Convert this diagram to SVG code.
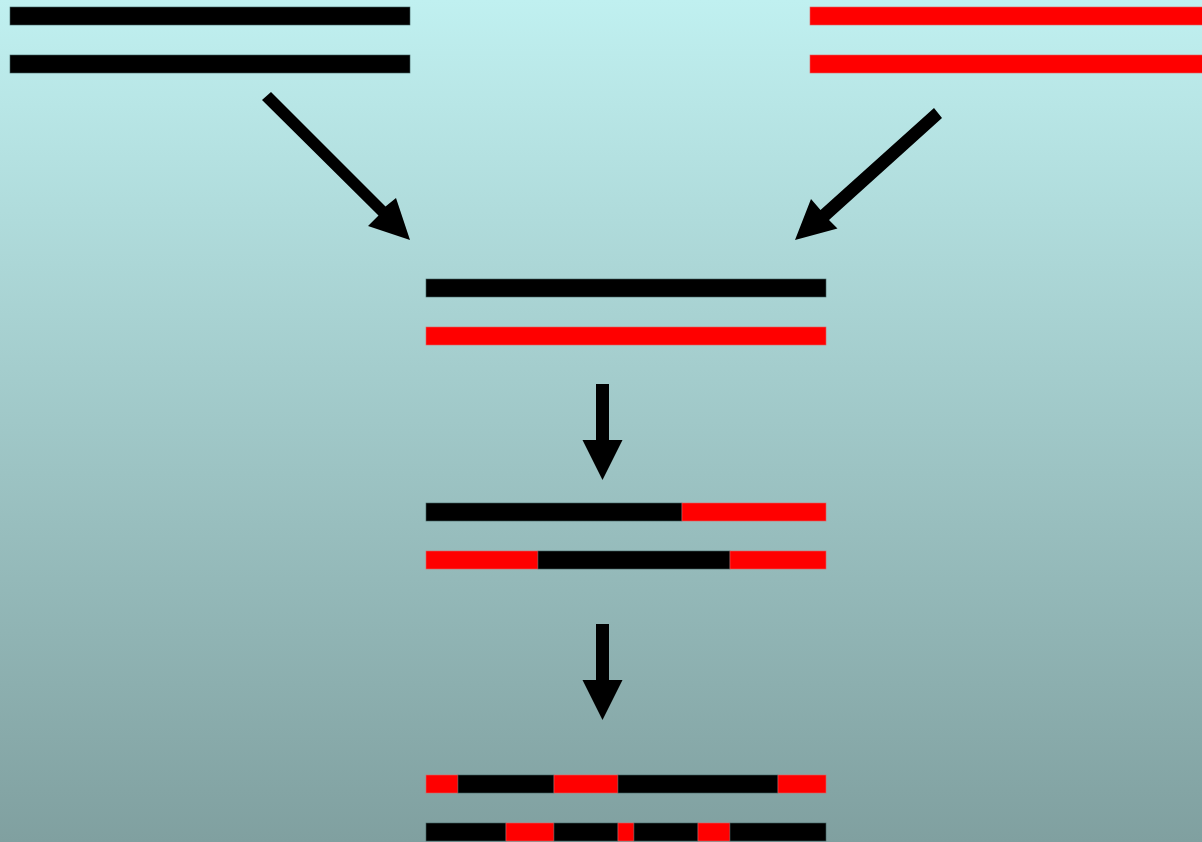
<svg xmlns="http://www.w3.org/2000/svg" width="1202" height="842" viewBox="0 0 1202 842">
  <defs>
    <linearGradient id="bg" x1="0" y1="0" x2="0" y2="1">
      <stop offset="0" stop-color="#c0f0f0"/>
      <stop offset="1" stop-color="#80a0a0"/>
    </linearGradient>
    <style>
      .k { fill: #000000; stroke: #406060; stroke-width: 0.6; }
      .r { fill: #ff0000; stroke: #e06060; stroke-width: 0.6; }
      .arrow { fill: #000000; }
    </style>
  </defs>
  <rect width="1202" height="842" fill="url(#bg)"/>

  <!-- parental chromosomes -->
  <g id="parent-black">
    <rect class="k" x="10" y="7" width="400" height="18"/>
    <rect class="k" x="10" y="55" width="400" height="18"/>
  </g>
  <g id="parent-red">
    <rect class="r" x="810" y="7" width="400" height="18"/>
    <rect class="r" x="810" y="55" width="400" height="18"/>
  </g>

  <!-- paired -->
  <g id="pair">
    <rect class="k" x="426" y="279" width="400" height="18"/>
    <rect class="r" x="426" y="327" width="400" height="18"/>
  </g>

  <!-- first crossover -->
  <g id="crossover-1">
    <rect class="k" x="426" y="503" width="256" height="18"/>
    <rect class="r" x="682" y="503" width="144" height="18"/>
    <rect class="r" x="426" y="551" width="112" height="18"/>
    <rect class="k" x="538" y="551" width="192" height="18"/>
    <rect class="r" x="730" y="551" width="96" height="18"/>
  </g>

  <!-- multiple crossovers -->
  <g id="crossover-2">
    <rect class="r" x="426" y="775" width="32" height="18"/>
    <rect class="k" x="458" y="775" width="96" height="18"/>
    <rect class="r" x="554" y="775" width="64" height="18"/>
    <rect class="k" x="618" y="775" width="160" height="18"/>
    <rect class="r" x="778" y="775" width="48" height="18"/>
    <rect class="k" x="426" y="823" width="80" height="18"/>
    <rect class="r" x="506" y="823" width="48" height="18"/>
    <rect class="k" x="554" y="823" width="64" height="18"/>
    <rect class="r" x="618" y="823" width="16" height="18"/>
    <rect class="k" x="634" y="823" width="64" height="18"/>
    <rect class="r" x="698" y="823" width="32" height="18"/>
    <rect class="k" x="730" y="823" width="96" height="18"/>
  </g>

  <!-- arrows -->
  <g id="connectors">
    <polygon class="arrow" points="262,100 271,92 385.5,206.5 396,198 410,240 368,226 378.5,215.5"/>
    <polygon class="arrow" points="934,108 942,118 829,220 837.5,228.5 795,240 811,199 820.5,210"/>
    <polygon class="arrow" points="596,384 609,384 609,440 622.5,440 602.5,480 582.5,440 596,440"/>
    <polygon class="arrow" points="596,624 609,624 609,680 622.5,680 602.5,720 582.5,680 596,680"/>
  </g>
</svg>
